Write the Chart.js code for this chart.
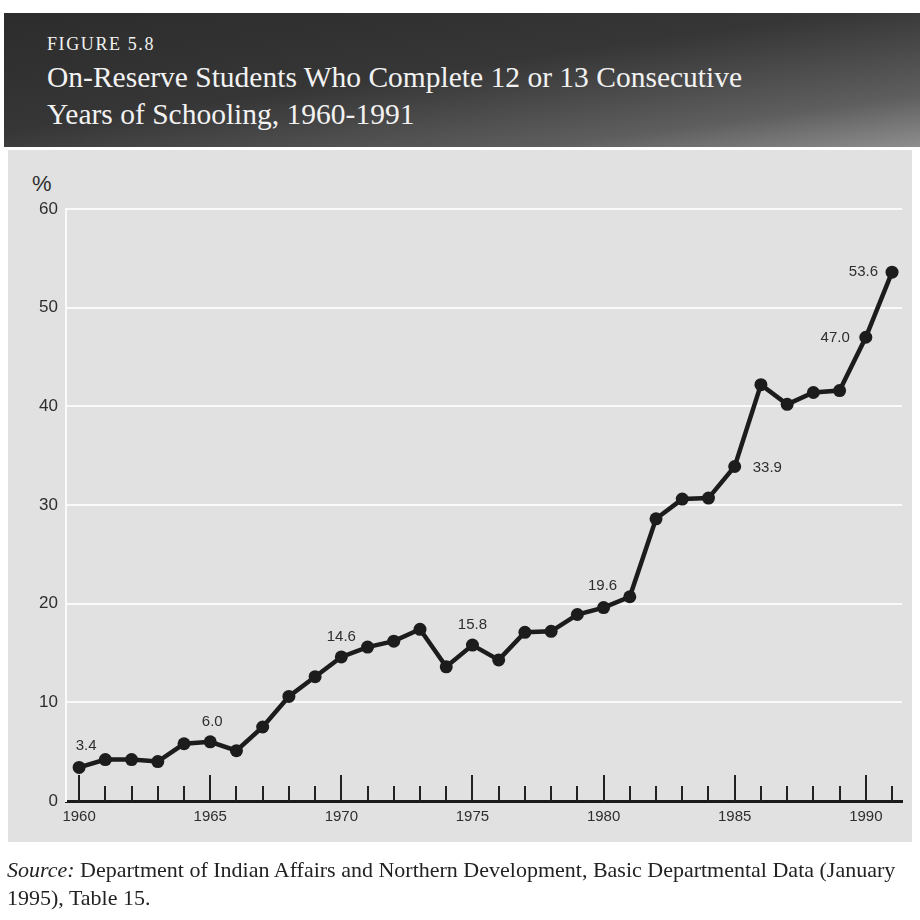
<!DOCTYPE html>
<html>
<head>
<meta charset="utf-8">
<script src="https://cdn.jsdelivr.net/npm/chart.js@4.4.1/dist/chart.umd.min.js"></script>
<style>
  html, body { margin: 0; padding: 0; background: #fff; }
  body { width: 920px; height: 920px; position: relative; overflow: hidden; }
  .header {
    position: absolute; left: 4px; top: 13px; width: 916px; height: 134px;
    background: linear-gradient(172deg, #2c2c2c 0%, #363636 45%, #5e5e5e 80%, #8e8e8e 100%);
    color: #f2f2f2; font-family: "Liberation Serif", "DejaVu Serif", serif;
  }
  .fig { position: absolute; left: 43px; top: 21px; font-size: 18px; letter-spacing: 1.6px; }
  .title { position: absolute; left: 43px; top: 46px; font-size: 29.5px; line-height: 37px; }
  .panel { position: absolute; left: 8px; top: 150px; width: 904px; height: 692px; background: #e1e1e1; }
  .pct { position: absolute; left: 32px; top: 171px; font: 22px "Liberation Sans", Arial, sans-serif; color: #2e2e2e; }
  .source {
    position: absolute; left: 7px; top: 856px; font: 22px/28px "Liberation Serif", "DejaVu Serif", serif;
    color: #222; white-space: nowrap;
  }
  canvas { position: absolute; left: 0; top: 0; }
</style>
</head>
<body>
<div class="header">
  <div class="fig">FIGURE 5.8</div>
  <div class="title">On-Reserve Students Who Complete 12 or 13 Consecutive<br>Years of Schooling, 1960-1991</div>
</div>
<div class="panel"></div>
<div class="pct">%</div>
<canvas id="chart" width="920" height="920"></canvas>
<div class="source"><i>Source:</i> Department of Indian Affairs and Northern Development, Basic Departmental Data (January<br>1995), Table 15.</div>

<script>
// Data
const years = [1960, 1961, 1962, 1963, 1964, 1965, 1966, 1967, 1968, 1969,
  1970, 1971, 1972, 1973, 1974, 1975, 1976, 1977, 1978, 1979,
  1980, 1981, 1982, 1983, 1984, 1985, 1986, 1987, 1988, 1989,
  1990, 1991];
const percent = [3.4, 4.2, 4.2, 4.0, 5.8, 6.0, 5.1, 7.5, 10.6, 12.6,
  14.6, 15.6, 16.2, 17.4, 13.6, 15.8, 14.3, 17.1, 17.2, 18.9,
  19.6, 20.7, 28.6, 30.6, 30.7, 33.9, 42.2, 40.2, 41.4, 41.6,
  47.0, 53.6];
const xTickLabels = [1960, 1965, 1970, 1975, 1980, 1985, 1990];
const yTickLabels = [0, 10, 20, 30, 40, 50, 60];
const labelledYears = [1960, 1965, 1970, 1975, 1980, 1985, 1990, 1991];

const fontSans = '"Liberation Sans", Arial, sans-serif';

// Year tick marks drawn upward from the axis
const yearTicks = {
  id: 'yearTicks',
  beforeDatasetsDraw(chart) {
    const { ctx, scales } = chart;
    const x = scales.x;
    const base = scales.y.getPixelForValue(0);
    ctx.save();
    ctx.strokeStyle = '#222';
    ctx.lineWidth = 2;
    years.forEach((yr) => {
      const px = Math.round(x.getPixelForValue(yr));
      const len = yr % 5 === 0 ? 26 : 15;
      ctx.beginPath();
      ctx.moveTo(px, base);
      ctx.lineTo(px, base - len);
      ctx.stroke();
    });
    ctx.restore();
  },
};

// Value labels next to selected points
const valueLabels = {
  id: 'valueLabels',
  afterDatasetsDraw(chart) {
    const { ctx, scales } = chart;
    // offsets from the point, and text alignment
    const place = {
      1960: [7, -22, 'center'],
      1965: [2, -20, 'center'],
      1970: [0, -20, 'center'],
      1975: [0, -20, 'center'],
      1980: [-1, -22, 'center'],
      1985: [18, 1, 'left'],
      1990: [-16, 1, 'right'],
      1991: [-14, 0, 'right'],
    };
    ctx.save();
    ctx.font = '15px ' + fontSans;
    ctx.fillStyle = '#2e2e2e';
    ctx.textBaseline = 'middle';
    labelledYears.forEach((yr) => {
      const i = years.indexOf(yr);
      const [dx, dy, align] = place[yr];
      ctx.textAlign = align;
      const px = scales.x.getPixelForValue(yr);
      const py = scales.y.getPixelForValue(percent[i]);
      ctx.fillText(percent[i].toFixed(1), px + dx, py + dy);
    });
    ctx.restore();
  },
};

const ctx = document.getElementById('chart').getContext('2d');
new Chart(ctx, {
  type: 'line',
  data: {
    datasets: [
      {
        data: years.map((yr, i) => ({ x: yr, y: percent[i] })),
        borderColor: '#1c1c1c',
        borderWidth: 4.5,
        pointRadius: 6.5,
        pointBackgroundColor: '#1c1c1c',
        pointBorderWidth: 0,
        tension: 0,
      },
    ],
  },
  options: {
    responsive: false,
    animation: false,
    events: [],
    layout: { padding: { left: 16, right: 18, top: 209, bottom: 89 } },
    plugins: { legend: { display: false }, tooltip: { enabled: false } },
    scales: {
      x: {
        type: 'linear',
        min: 1959.5,
        max: 1991.38,
        afterBuildTicks: (scale) => {
          scale.ticks = xTickLabels.map((v) => ({ value: v }));
        },
        afterFit: (scale) => { scale.height = 30; },
        grid: { display: false, drawTicks: false },
        border: { color: '#1a1a1a', width: 3 },
        ticks: {
          padding: 7,
          color: '#2e2e2e',
          font: { family: fontSans, size: 15 },
          callback: (v) => String(v),
        },
      },
      y: {
        min: 0,
        max: 60,
        afterBuildTicks: (scale) => {
          scale.ticks = yTickLabels.map((v) => ({ value: v }));
        },
        afterFit: (scale) => { scale.width = 50; },
        grid: {
          drawTicks: false,
          lineWidth: 2,
          color: (c) => (c.tick && c.tick.value === 0 ? 'rgba(0,0,0,0)' : '#fafafa'),
        },
        border: { color: '#fafafa', width: 2 },
        ticks: {
          padding: 8,
          color: '#2e2e2e',
          font: { family: fontSans, size: 17 },
        },
      },
    },
  },
  plugins: [yearTicks, valueLabels],
});
</script>
</body>
</html>
